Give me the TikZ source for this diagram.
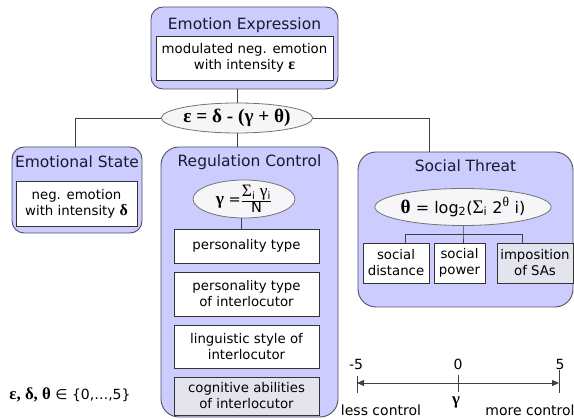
\documentclass[tikz,border=0pt]{standalone}
\usepackage{fontspec}
\setmainfont{DejaVu Sans}
\newfontfamily\grk[Scale=1.2]{Liberation Serif}
\usetikzlibrary{shapes.geometric,arrows.meta}
\definecolor{boxblue}{RGB}{204,204,255}
\definecolor{boxline}{RGB}{80,80,100}
\definecolor{ovalfill}{RGB}{246,246,248}
\definecolor{greyfill}{RGB}{228,228,238}
\definecolor{titletext}{RGB}{25,25,50}
\tikzset{
  outerbox/.style={draw=boxline, fill=boxblue, rounded corners=12pt, line width=0.9pt, inner sep=0pt},
  innerbox/.style={draw=black!80, fill=white, line width=0.8pt, inner sep=0pt, align=center, font=\fontsize{13.3}{16}\selectfont},
  shadebox/.style={innerbox, fill=greyfill},
  oval/.style={ellipse, draw=black!55, fill=ovalfill, line width=0.8pt, inner sep=0pt},
  heading/.style={font=\fontsize{15.5}{18}\selectfont, text=titletext},
  plain/.style={font=\fontsize{14}{16}\selectfont},
  link/.style={draw=black!75, line width=0.8pt}
}
\begin{document}
\begin{tikzpicture}[x=1pt,y=1pt,yscale=-1]
\useasboundingbox (0,0) rectangle (574,419);

% Emotion Expression
\node [outerbox, minimum width=187pt, minimum height=82pt] (expr) at (244.5,48) {};
\node [heading] (exprtitle) at (244.5,25) {Emotion Expression};
\node [innerbox, minimum width=177pt, minimum height=44pt] (exprtext) at (244.5,58) {modulated neg. emotion\\with intensity {\grk\bfseries ε}};

% Equation
\node [oval, minimum width=145pt, minimum height=30pt] (eqn) at (237,118) {\fontsize{16}{18}\selectfont\grk\bfseries ε = δ - (γ + θ)};

% Emotional State
\node [outerbox, minimum width=130pt, minimum height=86pt] (state) at (77,190) {};
\node [heading] (statetitle) at (77,162) {Emotional State};
\node [innerbox, minimum width=121pt, minimum height=45pt] (statetext) at (76.5,203.5) {neg. emotion\\with intensity {\grk\bfseries δ}};

% Regulation Control
\node [outerbox, minimum width=177pt, minimum height=270pt, rounded corners=18pt] (reg) at (249.5,282) {};
\node [heading] (regtitle) at (249.5,162) {Regulation Control};
\node [oval, minimum width=102pt, minimum height=34pt] (gamma) at (244,199) {\fontsize{14.5}{16}\selectfont{\grk\bfseries γ} =$\frac{\mbox{{\grk Σ}\textsubscript{i} {\grk γ}\textsubscript{i}}}{\mbox{N}}$};
\node [innerbox, minimum width=145pt, minimum height=34pt] (ptype) at (246.5,246) {personality type};
\node [innerbox, minimum width=145pt, minimum height=44pt] (pinter) at (246.5,294) {personality type\\of interlocutor};
\node [innerbox, minimum width=145pt, minimum height=43pt] (ling) at (246.5,346.5) {linguistic style of\\interlocutor};
\node [shadebox, minimum width=145pt, minimum height=38pt] (cogn) at (246.5,396) {cognitive abilities\\of interlocutor};

% Social Threat
\node [outerbox, minimum width=215pt, minimum height=155pt, rounded corners=18pt] (threat) at (465.5,229.5) {};
\node [heading] (threattitle) at (465.5,166) {Social Threat};
\node [oval, minimum width=137pt, minimum height=37pt] (theta) at (463,207) {\fontsize{16}{18}\selectfont{\grk\bfseries θ} = log\textsubscript{2}({\grk Σ}\textsubscript{i} 2\textsuperscript{\grk θ} i)};
\node [innerbox, minimum width=66pt, minimum height=40pt] (dist) at (396,263) {social\\distance};
\node [innerbox, minimum width=51pt, minimum height=40pt] (power) at (459.5,263) {social\\power};
\node [shadebox, minimum width=76pt, minimum height=40pt] (impose) at (535,263) {imposition\\of SAs};

% Connectors
\coordinate (statejoin) at (75,147);
\coordinate (threatjoin) at (429,152);
\coordinate (fork) at (463,235);
\draw [link] (eqn.north) -- (eqn.north |- expr.south);
\draw [link] (eqn.west) -| (statejoin);
\draw [link] (eqn.east) -| (threatjoin);
\draw [link] (eqn.south) -- (eqn.south |- reg.north);
\draw [link] ([xshift=-3pt]gamma.south) -- ([xshift=-3pt]gamma.south |- ptype.north);
\draw [link] (theta.south) -- (fork) -- (fork |- power.north);
\draw [link] ([xshift=9pt]dist.north) -- ++(0,-8) -| ([xshift=-13pt]impose.north);

% Scale of gamma
\coordinate (lefttick) at (357,383);
\coordinate (midtick) at (458,383);
\coordinate (righttick) at (559,383);
\draw [link, {Triangle[length=7pt,width=6pt]}-{Triangle[length=7pt,width=6pt]}] (lefttick) -- (righttick);
\draw [link] (lefttick) ++(0,-7) -- ++(0,17);
\draw [link] (midtick) ++(0,-8) -- ++(0,17);
\draw [link] (righttick) ++(0,-13) -- ++(0,23);
\node [plain] (lo) at (356,364) {-5};
\node [plain] (zero) at (458,364) {0};
\node [plain] (hi) at (560,364) {5};
\node [plain] (less) at (381,410) {less control};
\node [plain] (gam) at (456,402) {\grk\bfseries γ};
\node [plain] (more) at (530,410) {more control};

% Domain
\node [plain] (domain) at (70,395) {{\grk\bfseries ε, δ, θ} ∈ \{0,…,5\}};

\end{tikzpicture}
\end{document}
